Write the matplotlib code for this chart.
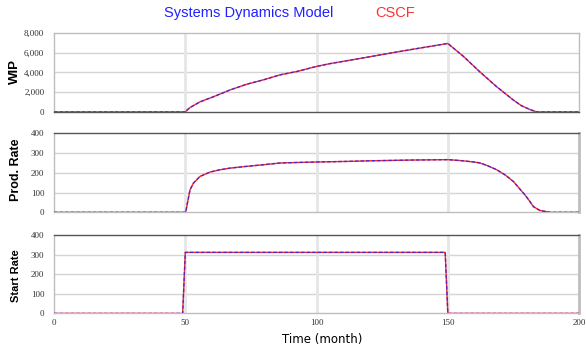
import matplotlib
matplotlib.use("Agg")
import matplotlib.pyplot as plt

# values (time in months)
wip_t = [0, 50, 50.5, 51.8, 55.6, 60.7, 67, 73.4, 79.7, 86.1, 92.5, 100, 105, 110, 120, 130, 140, 150,
         155.9, 162.3, 168.6, 175, 178, 181.3, 183.9, 200]
wip_v = [0, 0, 150, 450, 1025, 1540, 2225, 2810, 3250, 3760, 4100, 4615, 4890, 5120, 5580, 6050, 6500, 6940,
         5640, 4040, 2560, 1200, 640, 245, 0, 0]

prod_t = [0, 50, 50.3, 50.8, 51.8, 53.1, 55.6, 59.4, 63, 67, 73.4, 79.7, 86.1, 93.7, 100, 111.5, 120, 136.8, 150,
          155, 160, 162.3, 165, 168.6, 172, 175, 177, 179.4, 181, 182.6, 185, 187.7, 189, 200]
prod_v = [0, 0, 10, 46, 114, 148, 182, 204, 215, 224, 233, 241, 250, 253, 255, 258, 261, 265, 267,
          262, 255, 250, 237, 216, 188, 156, 125, 88, 60, 29, 10, 3, 0, 0]

start_t = [0, 49, 50, 149, 150, 200]
start_v = [0, 0, 312, 312, 0, 0]

panels = [
    ("WIP", wip_t, wip_v, [0, 2000, 4000, 6000, 8000], ["0", "2,000", "4,000", "6,000", "8,000"]),
    ("Prod. Rate", prod_t, prod_v, [0, 100, 200, 300, 400], ["0", "100", "200", "300", "400"]),
    ("Start Rate", start_t, start_v, [0, 100, 200, 300, 400], ["0", "100", "200", "300", "400"]),
]
xticks = [0, 50, 100, 150, 200]

red = "#ff2a2a"
blue = "#3a22d8"

fig = plt.figure(figsize=(5.86, 3.51), dpi=100)
boxes = [(0.0922, 0.681, 0.896, 0.225),
         (0.0922, 0.395, 0.896, 0.225),
         (0.0922, 0.107, 0.896, 0.223)]
label_pos = [(0.026, 0.795, 9.5), (0.028, 0.515, 9), (0.028, 0.215, 8)]

for i, (name, t, v, yt, ylab) in enumerate(panels):
    ax = fig.add_axes(boxes[i])
    ax.set_xlim(0, 200)
    ax.set_ylim(yt[0], yt[-1])
    for y in yt[1:-1]:
        ax.axhline(y, color="#d4d4d4", lw=1, zorder=1)
    for x in xticks[1:-1]:
        ax.axvline(x, color="#e6e6e6", lw=2, zorder=1)
    ax.plot(t, v, color=red, lw=1.0, zorder=3)
    ax.plot(t, v, color=blue, lw=1.0, dashes=(2.5, 1.5), alpha=0.85, zorder=4)
    ax.set_yticks(yt)
    ax.set_yticklabels(ylab, family="Liberation Serif", fontsize=6.5, color="#333333")
    ax.set_xticks(xticks)
    if i == 2:
        ax.set_xticklabels([str(x) for x in xticks], family="Liberation Serif", fontsize=6.5, color="#333333")
    else:
        ax.set_xticklabels([])
    ax.tick_params(length=0, pad=7)
    ax.tick_params(axis="x", pad=4)
    for s in ax.spines.values():
        s.set_color("#bdbdbd")
        s.set_linewidth(1)
    if i == 0:
        ax.spines["bottom"].set_color("#555555")
    else:
        ax.spines["top"].set_color("#555555")
        ax.spines["right"].set_linewidth(2)
    lx, ly, fs = label_pos[i]
    fig.text(lx, ly, name, rotation=90, ha="center", va="center",
             family="Liberation Sans", fontweight="bold", fontsize=fs)

fig.text(0.55, 0.034, "Time (month)", ha="center", va="center", family="DejaVu Sans", fontsize=8.5)
fig.text(0.424, 0.962, "Systems Dynamics Model", ha="center", va="center",
         family="Liberation Sans", fontsize=10.5, color="#2020ff")
fig.text(0.674, 0.962, "CSCF", ha="center", va="center",
         family="Liberation Sans", fontsize=10.5, color="#ff3030")

fig.savefig("out.png", dpi=100)
